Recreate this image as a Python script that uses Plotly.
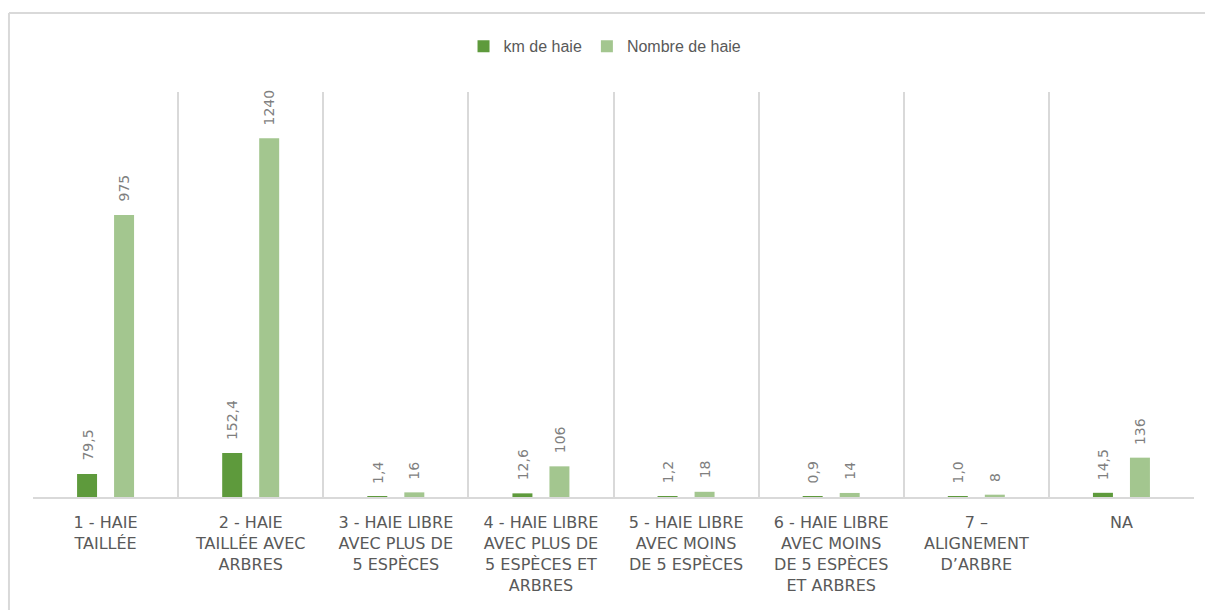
import plotly.graph_objects as go

categories = [
    "1 - HAIE<br>TAILLÉE",
    "2 - HAIE<br>TAILLÉE AVEC<br>ARBRES",
    "3 - HAIE LIBRE<br>AVEC PLUS DE<br>5 ESPÈCES",
    "4 - HAIE LIBRE<br>AVEC PLUS DE<br>5 ESPÈCES ET<br>ARBRES",
    "5 - HAIE LIBRE<br>AVEC MOINS<br>DE 5 ESPÈCES",
    "6 - HAIE LIBRE<br>AVEC MOINS<br>DE 5 ESPÈCES<br>ET ARBRES",
    "7 –<br>ALIGNEMENT<br>D’ARBRE",
    "NA",
]
km_haie = [79.5, 152.4, 1.4, 12.6, 1.2, 0.9, 1.0, 14.5]
nombre_haie = [975, 1240, 16, 106, 18, 14, 8, 136]


def fr(v, decimals):
    return f"{v:.{decimals}f}".replace(".", ",")


DARK = "#5E9A3C"
LIGHT = "#A3C68F"
GRID = "#D9D9D9"
TXT = "#595959"
LBL = "#7F7F7F"

fig = go.Figure()
fig.add_bar(name="km de haie", x=categories, y=km_haie,
            marker=dict(color=DARK, line=dict(width=0)))
fig.add_bar(name="Nombre de haie", x=categories, y=nombre_haie,
            marker=dict(color=LIGHT, line=dict(width=0)))

# value labels, rotated, above each bar of the group
label_font = dict(family="DejaVu Sans", size=14, color=LBL)
for series, fmt, dx in ((km_haie, lambda v: fr(v, 1), -18.5),
                        (nombre_haie, lambda v: str(v), 18.5)):
    for cat, v in zip(categories, series):
        fig.add_annotation(x=cat, y=v, text=fmt(v), showarrow=False,
                           textangle=-90, xanchor="center", yanchor="bottom",
                           xshift=dx, yshift=11, font=label_font)

# outer frame of the chart (top and left edges)
frame = dict(type="line", xref="paper", yref="paper",
             line=dict(color=GRID, width=2), layer="below")
fig.add_shape(x0=-0.0207, x1=1.02, y0=1.195, y1=1.195, **frame)
fig.add_shape(x0=-0.0207, x1=-0.0207, y0=1.195, y1=-0.3, **frame)

fig.update_layout(
    width=1205, height=610,
    margin=dict(l=33, r=11, t=92, b=113),
    paper_bgcolor="white", plot_bgcolor="white",
    barmode="group", bargap=0.49, bargroupgap=0.46,
    showlegend=True,
    legend=dict(orientation="h", x=0.4927, xanchor="center",
                y=1.113, yanchor="middle",
                font=dict(family="Liberation Sans", size=16, color=TXT),
                itemwidth=30, tracegroupgap=0),
    font=dict(family="DejaVu Sans", color=TXT),
)
fig.update_xaxes(
    type="category", tickson="boundaries", showgrid=True,
    gridcolor=GRID, gridwidth=2, showline=True, linecolor=GRID,
    linewidth=2, ticks="", mirror=False,
    tickfont=dict(family="DejaVu Sans", size=16, color=TXT),
    tickangle=0, ticklabelstandoff=10,
)
fig.update_yaxes(range=[0, 1400], visible=False, showgrid=False)

fig.write_html("out.html")
